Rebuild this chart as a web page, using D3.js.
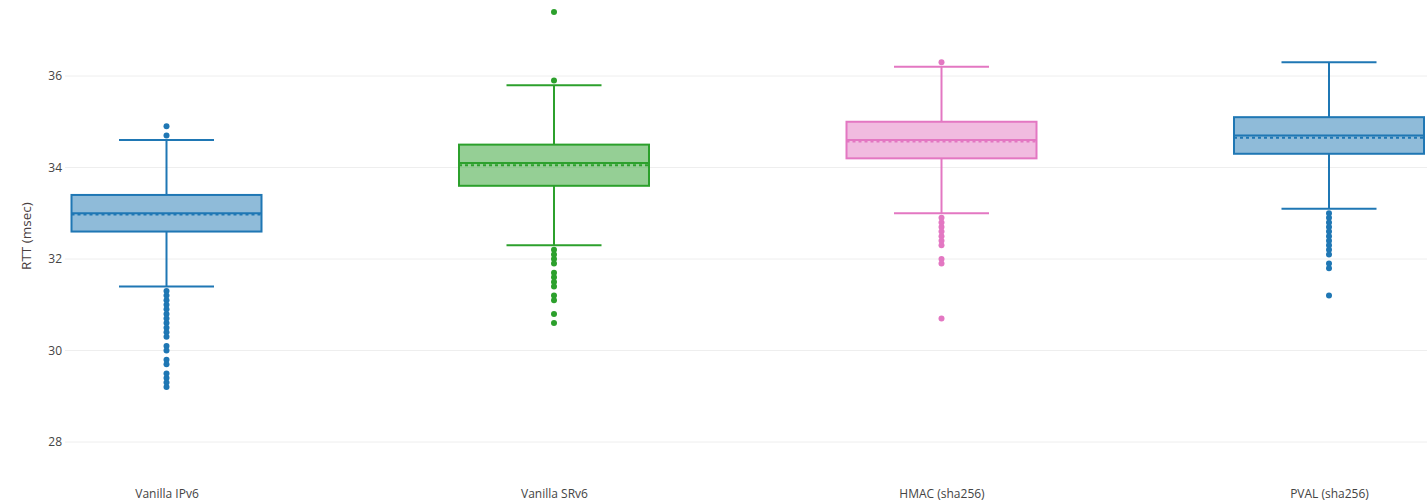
<!DOCTYPE html>
<html>
<head>
<meta charset="utf-8">
<script src="https://cdn.jsdelivr.net/npm/d3@7"></script>
<style>
html,body{margin:0;padding:0;background:#fff;}
svg{display:block;}
text{font-family:"Open Sans","DejaVu Sans",sans-serif;}
</style>
</head>
<body>
<svg id="chart" width="1427" height="502"></svg>
<script>
const categories = ["Vanilla IPv6", "Vanilla SRv6", "HMAC (sha256)", "PVAL (sha256)"];
const colors = ["#1f77b4", "#2ca02c", "#e377c2", "#1f77b4"];
const q1 = [32.6, 33.6, 34.2, 34.3];
const q3 = [33.4, 34.5, 35.0, 35.1];
const medians = [33.0, 34.1, 34.6, 34.7];
const means = [32.97, 34.05, 34.57, 34.65];
const lowerFence = [31.4, 32.3, 33.0, 33.1];
const upperFence = [34.6, 35.8, 36.2, 36.3];
const outliers = [
  [34.9, 34.7, 31.3, 31.2, 31.1, 31.0, 30.9, 30.8, 30.7, 30.6, 30.5, 30.4, 30.3, 30.1, 30.0, 29.8, 29.7, 29.5, 29.4, 29.3, 29.2],
  [37.4, 35.9, 32.2, 32.1, 32.0, 31.9, 31.7, 31.6, 31.5, 31.4, 31.2, 31.1, 30.8, 30.6],
  [36.3, 32.9, 32.8, 32.7, 32.6, 32.5, 32.4, 32.3, 32.0, 31.9, 30.7],
  [33.0, 32.9, 32.8, 32.7, 32.6, 32.5, 32.4, 32.3, 32.2, 32.1, 31.9, 31.8, 31.2]
];
const yTicks = [28, 30, 32, 34, 36];
const yTitle = "RTT (msec)";

const svg = d3.select("#chart");
const plotLeft = 65, plotRight = 1427;

const x = d3.scalePoint().domain(categories).range([166.5, 1329]);
const y = d3.scaleLinear().domain([28, 36]).range([442, 76]);
const boxW = 190, capW = 95;

// gridlines
svg.append("g").selectAll("line").data(yTicks).join("line")
  .attr("x1", plotLeft).attr("x2", plotRight)
  .attr("y1", d => y(d)).attr("y2", d => y(d))
  .attr("stroke", "#eeeeee").attr("stroke-width", 1);

// y axis labels
const yAxis = d3.axisLeft(y).tickValues(yTicks).tickSize(0).tickPadding(0).tickFormat(d3.format("d"));
const yg = svg.append("g").attr("transform", `translate(${plotLeft - 3},0)`).call(yAxis);
yg.select(".domain").remove();
yg.selectAll("text").attr("font-size", 12).attr("fill", "#444").attr("font-family", "'Open Sans', sans-serif");

// x axis labels
const xAxis = d3.axisBottom(x).tickSize(0).tickPadding(0);
const xg = svg.append("g").attr("transform", "translate(0,489)").call(xAxis);
xg.select(".domain").remove();
xg.selectAll("text").attr("font-size", 12).attr("fill", "#444").attr("font-family", "'Open Sans', sans-serif");

// y title
svg.append("text")
  .attr("transform", `translate(31,${y(32.5)}) rotate(-90)`)
  .attr("text-anchor", "middle")
  .attr("font-size", 13.5).attr("fill", "#4a4040")
  .text(yTitle);

// boxes
const g = svg.append("g");
categories.forEach((c, i) => {
  const cx = x(c), col = colors[i];
  const bg = g.append("g");
  bg.append("line").attr("x1", cx).attr("x2", cx).attr("y1", y(q3[i])).attr("y2", y(upperFence[i]))
    .attr("stroke", col).attr("stroke-width", 2);
  bg.append("line").attr("x1", cx).attr("x2", cx).attr("y1", y(q1[i])).attr("y2", y(lowerFence[i]))
    .attr("stroke", col).attr("stroke-width", 2);
  [upperFence[i], lowerFence[i]].forEach(v => {
    bg.append("line").attr("x1", cx - capW / 2).attr("x2", cx + capW / 2).attr("y1", y(v)).attr("y2", y(v))
      .attr("stroke", col).attr("stroke-width", 2);
  });
  bg.append("rect").attr("x", cx - boxW / 2).attr("width", boxW)
    .attr("y", y(q3[i])).attr("height", y(q1[i]) - y(q3[i]))
    .attr("fill", col).attr("fill-opacity", 0.5).attr("stroke", col).attr("stroke-width", 2);
  bg.append("line").attr("x1", cx - boxW / 2).attr("x2", cx + boxW / 2).attr("y1", y(medians[i])).attr("y2", y(medians[i]))
    .attr("stroke", col).attr("stroke-width", 2);
  bg.append("line").attr("x1", cx - boxW / 2).attr("x2", cx + boxW / 2).attr("y1", y(means[i])).attr("y2", y(means[i]))
    .attr("stroke", col).attr("stroke-width", 2).attr("stroke-dasharray", "3,3");
  bg.selectAll("circle").data(outliers[i]).join("circle")
    .attr("cx", cx).attr("cy", d => y(d)).attr("r", 3).attr("fill", col);
});
</script>
</body>
</html>
